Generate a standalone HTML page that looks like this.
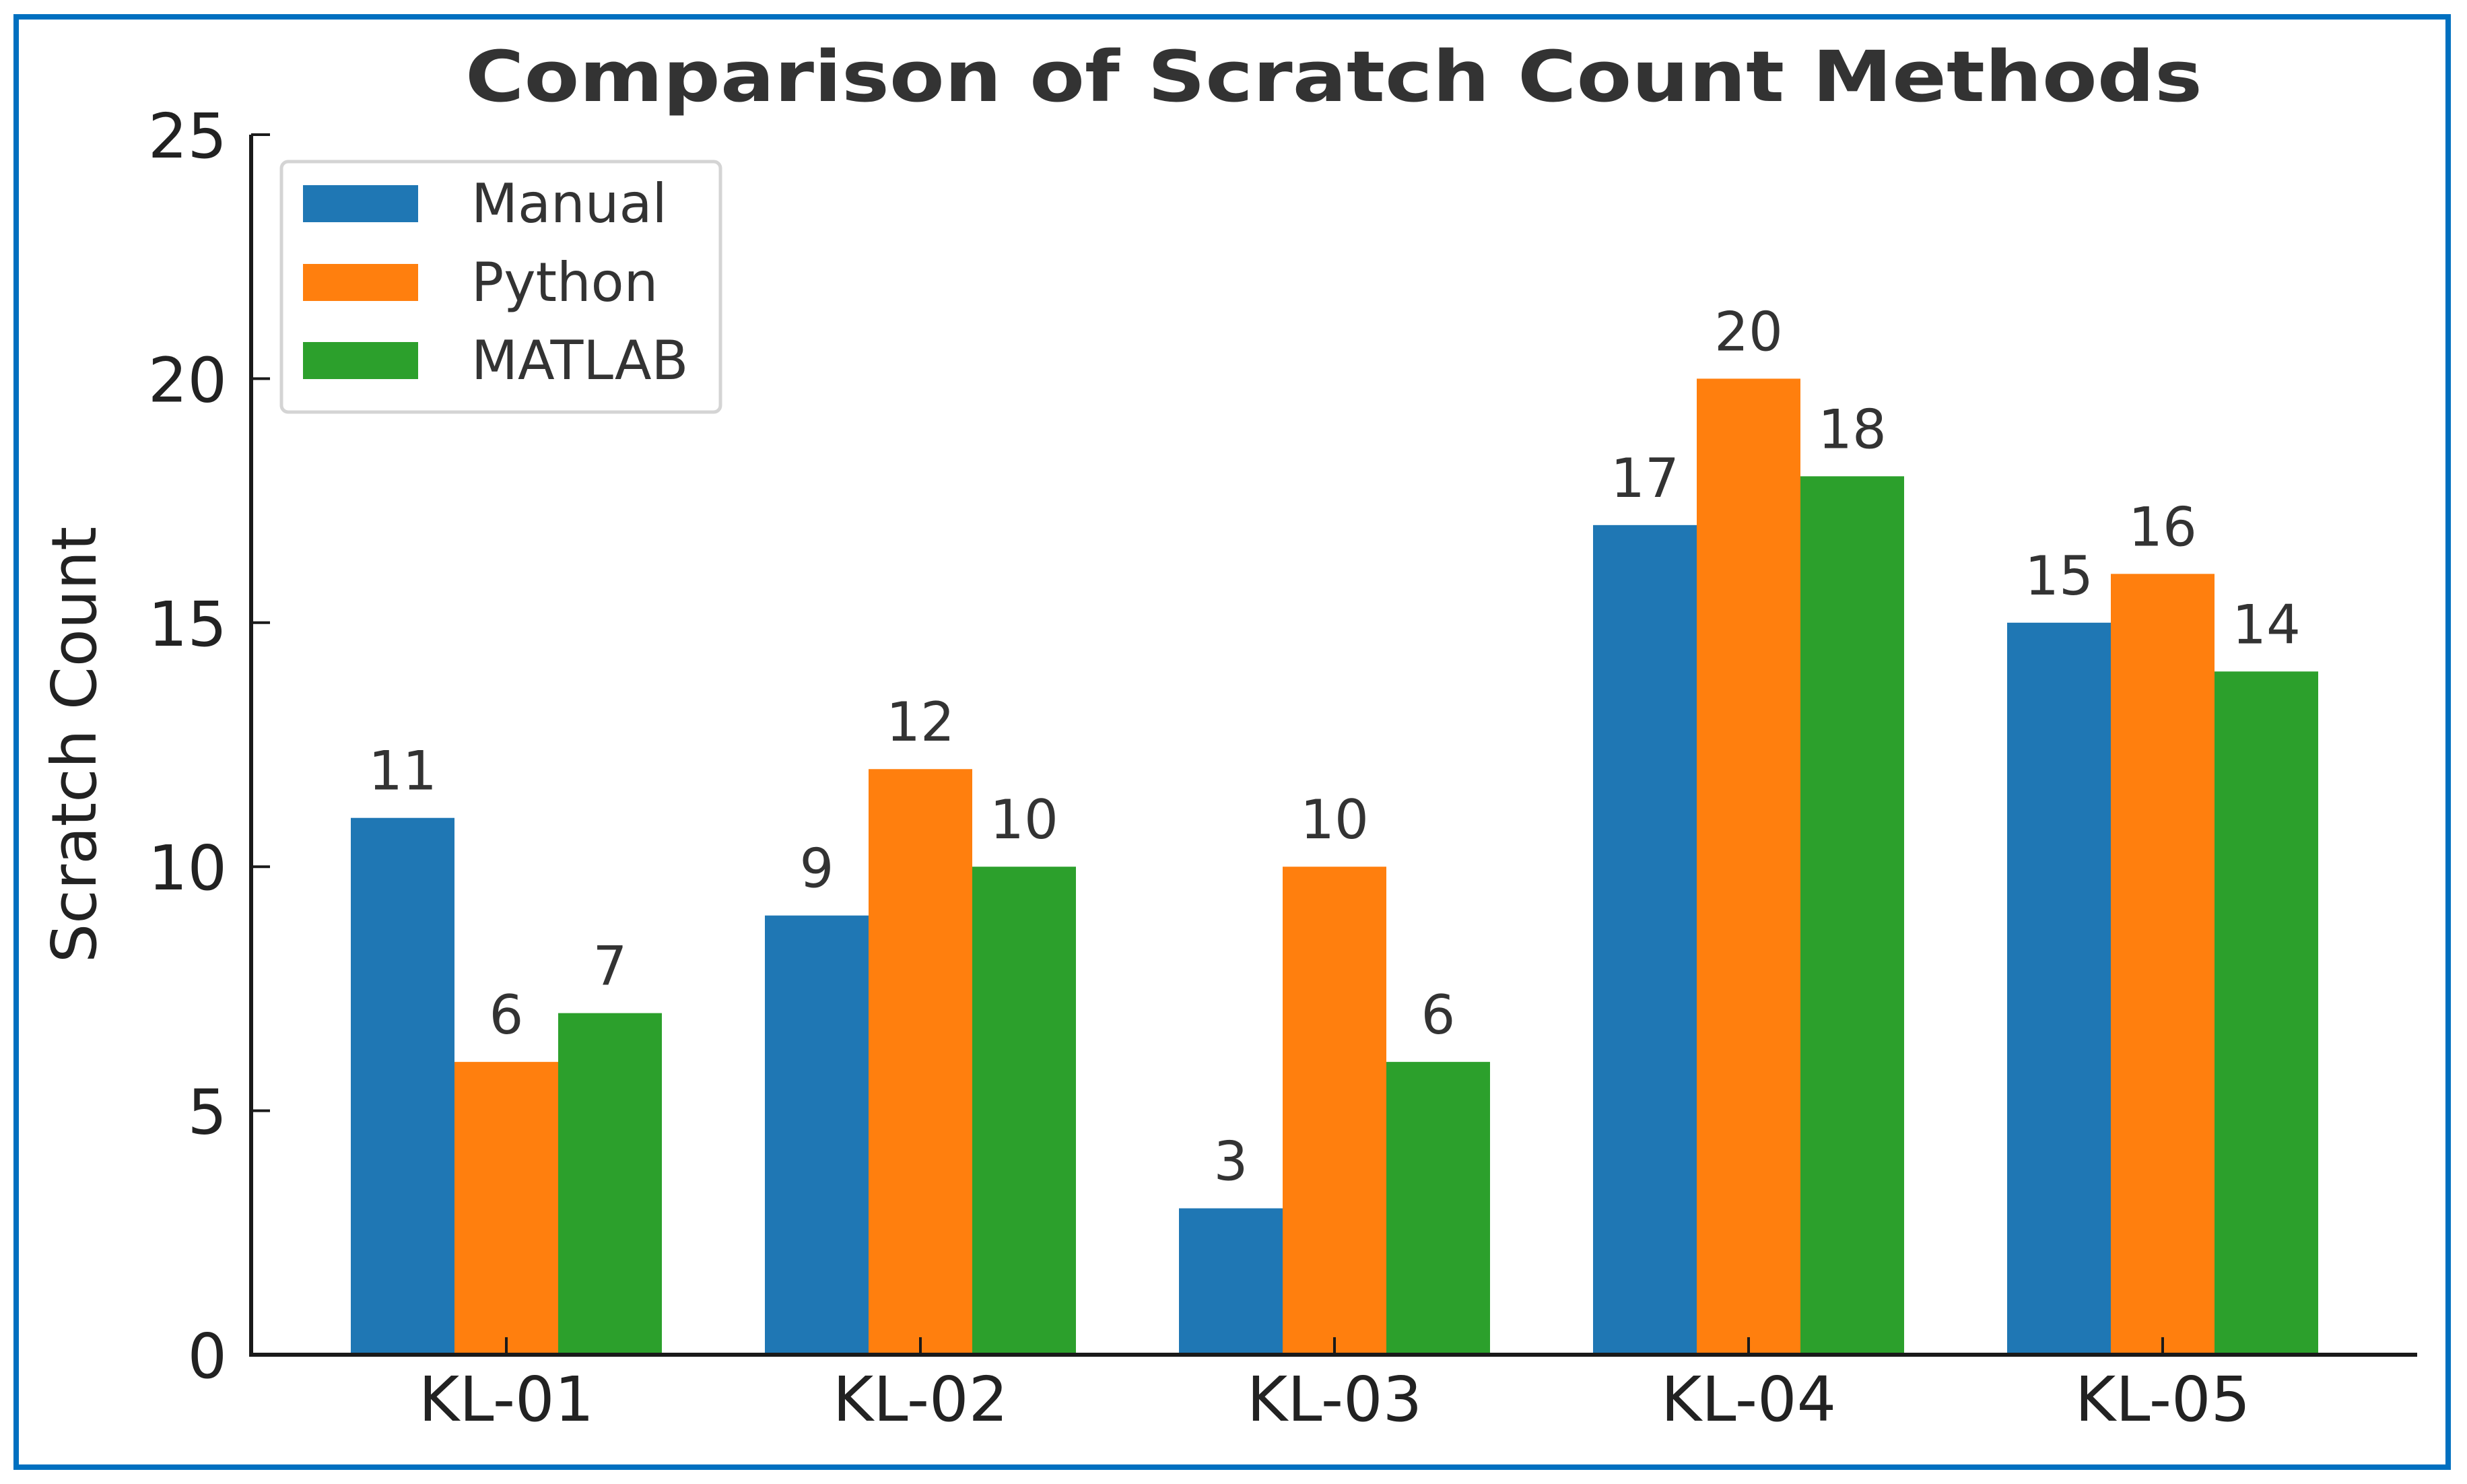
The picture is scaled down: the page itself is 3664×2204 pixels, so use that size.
<!DOCTYPE html>
<html><head><meta charset="utf-8"><style>
html,body{margin:0;padding:0;background:#fff;}
svg{display:block;font-family:"DejaVu Sans","Liberation Sans",sans-serif;}
</style></head><body>
<svg id="chart" width="3664" height="2204" viewBox="0 0 3664 2204" xmlns="http://www.w3.org/2000/svg">
<rect x="24" y="25" width="3612" height="2154" fill="#fff" stroke="#0070c0" stroke-width="8"/>
<text x="1981" y="150" text-anchor="middle" font-size="104" font-weight="bold" fill="#333" textLength="2580" lengthAdjust="spacingAndGlyphs">Comparison of Scratch Count Methods</text>
<text transform="translate(142,1106) rotate(-90)" text-anchor="middle" font-size="92" fill="#222" textLength="648" lengthAdjust="spacingAndGlyphs">Scratch Count</text>
<g id="bars"></g>
<g id="axes"></g>
<g id="legend">
<rect x="418" y="240" width="652" height="372" rx="10" fill="#fff" stroke="#d4d4d4" stroke-width="5"/>
<rect x="450" y="275" width="171" height="55" fill="#1f77b4"/>
<text x="700" y="330" font-size="80" fill="#333">Manual</text>
<rect x="450" y="392" width="171" height="55" fill="#ff7f0e"/>
<text x="700" y="447" font-size="80" fill="#333">Python</text>
<rect x="450" y="508" width="171" height="55" fill="#2ca02c"/>
<text x="700" y="563" font-size="80" fill="#333">MATLAB</text>
</g>
</svg>
<script>
const categories = ["KL-01","KL-02","KL-03","KL-04","KL-05"];
const manual = [11, 9, 3, 17, 15];
const python = [6, 12, 10, 20, 16];
const matlab = [7, 10, 6, 18, 14];
const yTicks = [0, 5, 10, 15, 20, 25];

const NS = "http://www.w3.org/2000/svg";
const x0 = 752, step = 615, barW = 154;
const yBase = 2012, yTop = 200, yMax = 25;
function xScale(i){ return x0 + i*step; }
function yScale(v){ return yBase - (yBase - yTop) * v / yMax; }
function mk(tag, attrs, parent){
  const e = document.createElementNS(NS, tag);
  for (const k in attrs) e.setAttribute(k, attrs[k]);
  parent.appendChild(e);
  return e;
}
const bars = document.getElementById('bars');
const axes = document.getElementById('axes');
const series = [
  {name:'manual', vals:manual, color:'#1f77b4', off:-1},
  {name:'python', vals:python, color:'#ff7f0e', off:0},
  {name:'matlab', vals:matlab, color:'#2ca02c', off:1}
];
series.forEach(s => {
  s.vals.forEach((v, i) => {
    const cx = xScale(i) + s.off*barW;
    const r = mk('rect', {x: cx - barW/2, y: yScale(v), width: barW, height: yBase - yScale(v), fill: s.color}, bars);
    
    
    const t = mk('text', {x: cx, y: yScale(v) - 42, 'text-anchor': 'middle', 'font-size': 80, fill: '#333'}, bars);
    t.textContent = v;
    
    
  });
});
// spines
const ls = mk('line', {x1: 373, y1: yTop, x2: 373, y2: yBase+3, stroke: '#1a1a1a', 'stroke-width': 6}, axes);


const bs = mk('line', {x1: 370, y1: yBase, x2: 3590, y2: yBase, stroke: '#1a1a1a', 'stroke-width': 6}, axes);


yTicks.forEach(v => {
  const y = yScale(v);
  const tk = mk('line', {x1: 373, y1: y, x2: 401, y2: y, stroke: '#1a1a1a', 'stroke-width': 4}, axes);
  
  
  const t = mk('text', {x: 337, y: y + 34, 'text-anchor': 'end', 'font-size': 92, fill: '#222'}, axes);
  t.textContent = v;
  
  
});
categories.forEach((c, i) => {
  const x = xScale(i);
  const tk = mk('line', {x1: x, y1: yBase, x2: x, y2: yBase - 26, stroke: '#1a1a1a', 'stroke-width': 4}, axes);
  
  
  const t = mk('text', {x: x, y: 2110, 'text-anchor': 'middle', 'font-size': 92, fill: '#222'}, axes);
  t.textContent = c;
  
  
});
</script>
</body></html>
